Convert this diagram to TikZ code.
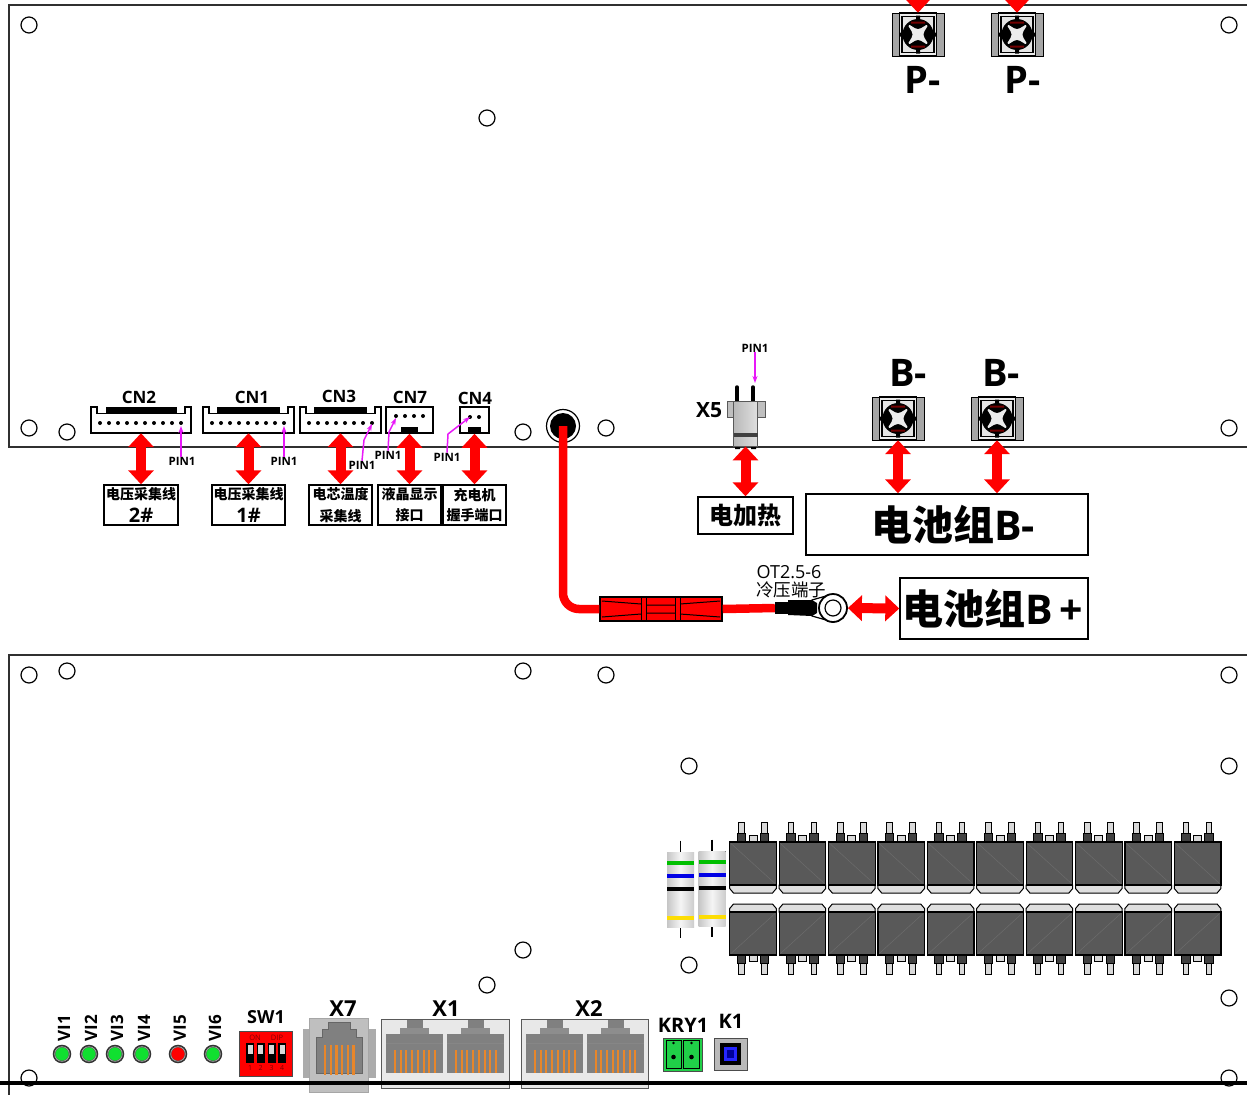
\documentclass[tikz,border=0pt]{standalone}
\usepackage{fontspec}
\setmainfont{Open Sans}
\newfontfamily\cjk{Noto Sans CJK SC}
\usepackage{xcolor}
\usetikzlibrary{calc,arrows.meta,positioning,shapes.geometric}

\newcommand{\zh}[1]{{\cjk\bfseries #1}}
\newcommand{\fsz}[1]{\fontsize{#1}{#1}\selectfont}

\definecolor{boardline}{HTML}{303030}
\definecolor{cablered}{HTML}{FF0000}
\definecolor{pinmag}{HTML}{E818F8}
\definecolor{fetgray}{HTML}{595959}
\definecolor{jackgray}{HTML}{808080}
\definecolor{pinorange}{HTML}{E8862A}
\definecolor{ledgreen}{HTML}{10E030}
\definecolor{krygreen}{HTML}{20D048}

\tikzset{
	board/.style={draw=boardline,line width=1.3pt},
	hole/.style={circle,draw=black,line width=1.2pt,fill=white,minimum size=16pt,inner sep=0pt},
	biarrow/.style={draw=cablered,line width=10pt,{Triangle[length=14pt,width=25pt,fill=cablered]}-{Triangle[length=14pt,width=25pt,fill=cablered]}},
	pinarrow/.style={draw=pinmag,line width=1.5pt,-{Stealth[length=7pt,width=5pt]}},
	pinlab/.style={font=\bfseries\fsz{11.5},inner sep=0pt},
	cnlab/.style={font=\bfseries\fsz{17},inner sep=0pt},
	partlab/.style={font=\bfseries\fsz{21},inner sep=0pt},
	powlab/.style={font=\bfseries\fsz{38},inner sep=0pt},
	cnbox/.style={minimum width=#1,minimum height=26pt,inner sep=0pt},
	labbox/.style={draw=black,line width=1.4pt,fill=white,align=center,inner sep=0pt,minimum height=40pt},
	termnode/.style={minimum width=52pt,minimum height=43pt,inner sep=0pt},
	led/.style={circle,draw=black!80,line width=2.5pt,fill=#1,minimum size=16pt,inner sep=0pt},
	pics/terminal/.style={code={
		\draw[fill=gray!70,line width=.9pt] (-26,-21.5) rectangle (26,21.5);
		\draw[fill=gray!15,line width=1.2pt] (-18.5,-21.5) rectangle (18.5,21.5);
		\draw[fill=gray!20,line width=1.2pt] (-16,-18) rectangle (16,18);
		\fill[black] (0,0) circle[radius=15.5pt];
		\fill[black] (-2,-19) rectangle (2,19) (-18,-2) rectangle (18,2);
		\fill[red!45!black] (-7,-13) rectangle (7,-11) (-7,11) rectangle (7,13);
		\draw[fill=gray!15,draw=gray!15,line width=2pt,line join=round] (-8.5,-8.5) .. controls (0,-3) .. (8.5,-8.5) .. controls (3,0) .. (8.5,8.5) .. controls (0,3) .. (-8.5,8.5) .. controls (-3,0) .. cycle;
	}},
	pics/fet/.style={code={
		\foreach \px in {-11.5,11.5}{
			\draw[fill=gray!30,line width=1pt] (\px-2.8,-41) rectangle (\px+2.8,-29);
			\draw[fill=black!75,line width=1pt] (\px-4.2,-30) rectangle (\px+4.2,-21);
		}
		\draw[fill=gray!30,line width=1pt] (-4,-28) rectangle (4,-21);
		\draw[fill=gray!25,line width=1pt] (-23.3,21.5) -- (-23.3,25) -- (-19.5,29.5) -- (19.5,29.5) -- (23.3,25) -- (23.3,21.5) -- cycle;
		\draw[fill=fetgray,line width=1.2pt] (-23.3,-21.5) rectangle (23.3,21.5);
		\draw[gray!85!black,line width=.5pt] (-22,-20) -- (22,20);
	}},
	pics/rjjack/.style={code={
		\fill[jackgray] (-7.5,-33.5) rectangle (8.5,-25);
		\fill[jackgray!90] (-14.5,-26) rectangle (14.5,-19);
		\fill[jackgray] (-28.5,-19.5) rectangle (28.5,19.5);
		\draw[gray!95,line width=.5pt] (-28.5,-10) -- (28.5,-10);
		\foreach \bx in {0,...,7}
			\draw[pinorange,line width=2pt] (-19.5+\bx*5.7,-3.5) -- (-19.5+\bx*5.7,19);
	}},
	pics/resistor/.style={code={
		\draw[line width=1.7pt] (0,-49) -- (0,-38) (0,37) -- (0,48);
		\fill[left color=gray!45,right color=gray!40,middle color=gray!8] (-13.5,-37.5) rectangle (13.5,37.5);
		\fill[green!75!black] (-13.5,-28.5) rectangle (13.5,-24.5);
		\fill[blue!90!black] (-13.5,-15.5) rectangle (13.5,-11.5);
		\fill[black] (-13.5,-2.5) rectangle (13.5,1.5);
		\fill[yellow!80!orange] (-13.5,26.5) rectangle (13.5,30.5);
	}},
}

\newcommand{\cnbody}[3]{% housing of a wire socket: node, left and right end of its black bar
	\draw[line width=1.5pt,fill=white] (#1.north west) -- ++(6,0) -- ++(0,6.5) -| ($(#1.north east)+(-6,0)$) -- (#1.north east) -- (#1.south east) -- (#1.south west) -- cycle;
	\fill[black] (#2,407) rectangle (#3,413.5);
}

\begin{document}
\begin{tikzpicture}[x=1pt,y=-1pt]
	\useasboundingbox (0,0) rectangle (1247,1095);
	\clip (0,0) rectangle (1247,1095);
	\fill[white] (0,0) rectangle (1247,1095);

	% boards
	\draw[board] (1247,5) -- (9,5) -- (9,447) -- (1247,447);
	\draw[board] (1247,655) -- (9,655) -- (9,1095);

	% mounting holes
	\foreach \hx/\hy [count=\hn] in {29/25,1229/25,487/118,29/428,67/432,523/432,606/428,1229/428,29/675,67/671,523/671,606/675,1229/675,689/766,1229/766,523/950,689/965,487/985,1229/998,29/1078,1229/1078}
		\node[hole] (hole\hn) at (\hx,\hy) {};

	% power terminals
	\foreach \tn/\tx/\ty in {pa/918/34.5,pb/1017/34.5,ba/898/418.5,bb/997/418.5}{
		\node[termnode] (\tn) at (\tx,\ty) {};
		\pic at (\tn) {terminal};
	}
	\node[powlab] (palab) at (923,80) {P-};
	\node[powlab] (pblab) at (1023,80) {P-};
	\node[powlab] (balab) at (908,373) {B-};
	\node[powlab] (bblab) at (1001,373) {B-};
	\coordinate (patop) at (918,-20);
	\coordinate (pbtop) at (1017,-20);
	\draw[biarrow] (patop) -- (pa.north);
	\draw[biarrow] (pbtop) -- (pb.north);

	% wire sockets
	\node[cnbox=100pt] (cn2) at (141,420) {};
	\node[cnbox=91pt] (cn1) at (248.5,420) {};
	\node[cnbox=81pt] (cn3) at (340.5,420) {};
	\node[cnbox=47pt,draw,line width=1.5pt] (cn7) at (409.5,420) {};
	\node[cnbox=29pt,draw,line width=1.5pt] (cn4) at (474.5,420) {};
	\cnbody{cn2}{106}{177}
	\cnbody{cn1}{217}{280}
	\cnbody{cn3}{314}{367}
	\fill[black] (401,427) rectangle (418,433);
	\fill[black] (468,427) rectangle (481,433);
	\foreach \i in {0,...,9} \fill (100+\i*9,423) circle[radius=2pt];
	\foreach \i in {0,...,8} \fill (212+\i*9,423) circle[radius=2pt];
	\foreach \i in {0,...,7} \fill (309+\i*9,423) circle[radius=2pt];
	\foreach \i in {396,405,414,423} \fill (\i,416) circle[radius=2pt];
	\foreach \i in {470,479} \fill (\i,417) circle[radius=2pt];
	\node[cnlab] (cn2lab) at (139,397) {CN2};
	\node[cnlab] (cn1lab) at (252,397) {CN1};
	\node[cnlab] (cn3lab) at (339,396) {CN3};
	\node[cnlab] (cn7lab) at (410,397) {CN7};
	\node[cnlab] (cn4lab) at (475,398) {CN4};

	% what plugs into them
	\node[labbox,minimum width=74pt] (wire2) at (141,505) {\zh{\fsz{14}电压采集线}\\[6pt]{\bfseries\fsz{20}2\#}};
	\node[labbox,minimum width=73pt] (wire1) at (248.5,505) {\zh{\fsz{14}电压采集线}\\[6pt]{\bfseries\fsz{20}1\#}};
	\node[labbox,minimum width=63pt] (tempw) at (340.5,505) {\zh{\fsz{14}电芯温度}\\[7pt]\zh{\fsz{14}采集线}};
	\node[labbox,minimum width=63pt] (lcdp) at (409.5,505) {\zh{\fsz{14}液晶显示}\\[7pt]\zh{\fsz{14}接口}};
	\node[labbox,minimum width=63pt] (chgp) at (474.5,505) {\zh{\fsz{14}充电机}\\[5pt]\zh{\fsz{14}握手端口}};
	\foreach \a/\b in {cn2/wire2,cn1/wire1,cn3/tempw,cn7/lcdp,cn4/chgp}
		\draw[biarrow] (\a.south) -- (\b.north);

	% pin one marks
	\node[pinlab] (pin2) at (182,461) {PIN1};
	\node[pinlab] (pin1) at (284,461) {PIN1};
	\node[pinlab] (pin3) at (362,465) {PIN1};
	\node[pinlab] (pin7) at (388,455) {PIN1};
	\node[pinlab] (pin4) at (447,457) {PIN1};
	\node[pinlab] (pin5) at (755,348) {PIN1};
	\coordinate (dot2) at (181,426);
	\coordinate (dot1) at (284,426);
	\coordinate (dot3) at (372,424);
	\coordinate (dot7) at (396,418);
	\coordinate (dot4) at (470,417);
	\coordinate (dot5) at (755,383);
	\draw[pinarrow] (pin2.north -| dot2) -- (dot2);
	\draw[pinarrow] (pin1.north) -- (dot1);
	\draw[pinarrow] (pin3.north) -- (364,440) -- (dot3);
	\draw[pinarrow] (pin7.north) -- (389,432) -- (dot7);
	\draw[pinarrow] (pin4.north) -- (448,434) -- (dot4);
	\draw[pinarrow] (pin5.south) -- (dot5);

	% heater socket
	\draw[line width=3.5pt,line cap=round] (737,387) -- (737,401);
	\draw[line width=3.5pt,line cap=round] (753,387) -- (753,401);
	\fill[black] (735,444) rectangle (740,449) (751,444) rectangle (756,449);
	\draw[gray!70!black,fill=gray!50,line width=.8pt] (727,401) rectangle (765,417);
	\node[draw=gray!70!black,line width=.8pt,minimum width=24pt,minimum height=45pt,inner sep=0pt,left color=gray!55,right color=gray!25] (x5) at (745.5,423.5) {};
	\fill[black!75] (733.5,433) rectangle (757.5,436.5);
	\node[partlab] (x5lab) at (709,410) {X5};
	\node[labbox,minimum width=95pt,minimum height=37pt] (heat) at (745.5,515.5) {\zh{\fsz{24}电加热}};
	\draw[biarrow] (x5.south) -- (heat.north);

	% battery pack
	\node[labbox,minimum width=282pt,minimum height=61pt] (bminus) at (947,524.5) {\hspace*{12pt}\bfseries\fsz{41}\zh{电池组}B-};
	\node[labbox,minimum width=188pt,minimum height=61pt] (bplus) at (994,608.5) {\hspace*{-3pt}\bfseries\fsz{41}\zh{电池组}B\,+};
	\draw[biarrow] (ba.south) -- (ba.south |- bminus.north);
	\draw[biarrow] (bb.south) -- (bb.south |- bminus.north);

	% plus cable
	\node[circle,draw=black,line width=1.2pt,fill=white,minimum size=33pt,inner sep=0pt] (gland) at (563,426) {};
	\fill[black] (gland) circle[radius=13pt];
	\node[draw=black,line width=1.4pt,fill=cablered,minimum width=122pt,minimum height=24pt,inner sep=0pt] (plug) at (661,609) {};
	\node[minimum width=40pt,minimum height=12pt,inner sep=0pt,fill=black] (crimp) at (795,608) {};
	\draw[line width=1.2pt,fill=white] (812,600) -- (826,596) -- (826,620) -- (812,616) -- cycle;
	\node[circle,draw=black,line width=1.8pt,fill=white,minimum size=28pt,inner sep=0pt] (ring) at (833,608) {};
	\draw[cablered,line width=8.5pt,rounded corners=16pt] (gland.center) |- (plug.west);
	\draw[cablered,line width=8.5pt] (plug.east) -- (crimp.west);
	\draw[black,line width=1pt] (641,597) -- (641,621) (646,597) -- (646,621) (675,597) -- (675,621) (680,597) -- (680,621);
	\draw[black,line width=1pt] (602,601) -- (641,604) (602,617) -- (641,614) (720,601) -- (680,604) (720,617) -- (680,614) (646,605) -- (675,605) (646,613) -- (675,613);
	\fill[black] (788,600) -- (812,600) -- (817,603) -- (817,613) -- (812,616) -- (788,615) -- cycle;
	\node[circle,draw=black,line width=1.2pt,fill=white,minimum size=16pt,inner sep=0pt] (ringeye) at (ring) {};
	\draw[biarrow] (ring.east) -- (bplus.west);
	\node[font=\fsz{18},inner sep=0pt] (otlab) at (789,572) {OT2.5-6};
	\node[font=\fsz{17.5},inner sep=0pt] (otzh) at (791,590) {{\cjk 冷压端子}};

	% resistors and fets
	\pic at (680.5,889.5) {resistor};
	\pic at (712,888.5) {resistor};
	\foreach \i in {0,...,9}{
		\pic at (753+\i*49.4,863.5) {fet};
		\pic[yscale=-1] at (753+\i*49.4,933.5) {fet};
	}

	% indicator leds
	\foreach \ln/\lx/\lc in {1/62/ledgreen,2/89/ledgreen,3/115/ledgreen,4/142/ledgreen,5/178/red,6/213/ledgreen}{
		\node[led=\lc] (led\ln) at (\lx,1054) {};
		\draw[gray!70,line width=.8pt] (led\ln) circle[radius=7.3pt];
		\node[rotate=90,font=\bfseries\fsz{17},inner sep=0pt] (vi\ln) at (\lx+2,1028) {VI\ln};
	}

	% dip switch
	\node[draw=black!70,line width=1pt,fill=cablered,minimum width=53pt,minimum height=45pt,inner sep=0pt] (sw1) at (266,1054) {};
	\foreach \sx [count=\si] in {250,260.5,271.5,282}{
		\fill[black] (\sx-4,1043) rectangle (\sx+4,1063);
		\fill[gray!30] (\sx-2.5,1045) rectangle (\sx+2.5,1054);
		\node[text=red!50!black,font=\fsz{7},inner sep=0pt] (swn\si) at (\sx,1068) {\si};
	}
	\node[text=red!50!black,font=\fsz{7.5},inner sep=0pt] (swon) at (255,1038) {ON};
	\node[text=red!50!black,font=\fsz{7.5},inner sep=0pt] (swdip) at (277,1038) {DIP};
	\node[partlab,font=\bfseries\fsz{18}] (sw1lab) at (266,1017) {SW1};

	% x7 phone jack
	\fill[gray!65] (303,1029) rectangle (376,1078);
	\node[draw=gray!70,line width=1pt,fill=gray!50,minimum width=59pt,minimum height=74pt,inner sep=0pt] (x7) at (338.5,1055) {};
	\draw[black!60,fill=jackgray] (328,1022) -- (350,1022) -- (350,1029) -- (356,1029) -- (356,1037) -- (362,1037) -- (362,1073) -- (316,1073) -- (316,1037) -- (322,1037) -- (322,1029) -- (328,1029) -- cycle;
	\foreach \i in {0,...,5}
		\draw[pinorange,line width=2.4pt] (325+\i*5.7,1045) -- (325+\i*5.7,1075);
	\node[partlab,font=\bfseries\fsz{22}] (x7lab) at (343,1009) {X7};

	% x1 x2 network jacks
	\node[draw=black!65,line width=1pt,fill=gray!18,minimum width=128pt,minimum height=69pt,inner sep=0pt] (x1) at (445,1053.5) {};
	\node[draw=black!65,line width=1pt,fill=gray!18,minimum width=127pt,minimum height=69pt,inner sep=0pt] (x2) at (584.5,1053.5) {};
	\foreach \jx in {414.5,475.5,554.5,615}
		\pic at (\jx,1053.5) {rjjack};
	\node[partlab,font=\bfseries\fsz{22}] (x1lab) at (446,1009) {X1};
	\node[partlab,font=\bfseries\fsz{22}] (x2lab) at (589,1009) {X2};

	% relay plug
	\node[draw=black!70,line width=1pt,fill=krygreen,minimum width=39pt,minimum height=33pt,inner sep=0pt] (kry1) at (682.5,1054.5) {};
	\draw[black,fill=krygreen,line width=.8pt] (666,1040) rectangle (681.5,1068) (683.5,1040) rectangle (699,1068);
	\fill[black] (673.5,1057) circle[radius=2.3pt] (691.5,1057) circle[radius=2.3pt];
	\fill[black] (673.5,1043) circle[radius=1.3pt] (691.5,1043) circle[radius=1.3pt];
	\node[partlab,font=\bfseries\fsz{20}] (krylab) at (683,1025) {KRY1};

	% k1 button
	\node[draw=black!70,line width=1pt,fill=gray!55,minimum width=33pt,minimum height=32pt,inner sep=0pt] (k1) at (730.5,1054) {};
	\fill[black] (720,1043) rectangle (741,1065);
	\fill[blue!85!white] (724,1047) rectangle (737,1061);
	\fill[blue!60!black] (727,1050) rectangle (734,1058);
	\node[partlab,font=\bfseries\fsz{20}] (k1lab) at (731,1021) {K1};

	% bottom edge of the sheet
	\coordinate (edgel) at (0,1083);
	\coordinate (edger) at (1247,1083);
	\draw[black,line width=3.4pt] (edgel) -- (edger);
\end{tikzpicture}
\end{document}
